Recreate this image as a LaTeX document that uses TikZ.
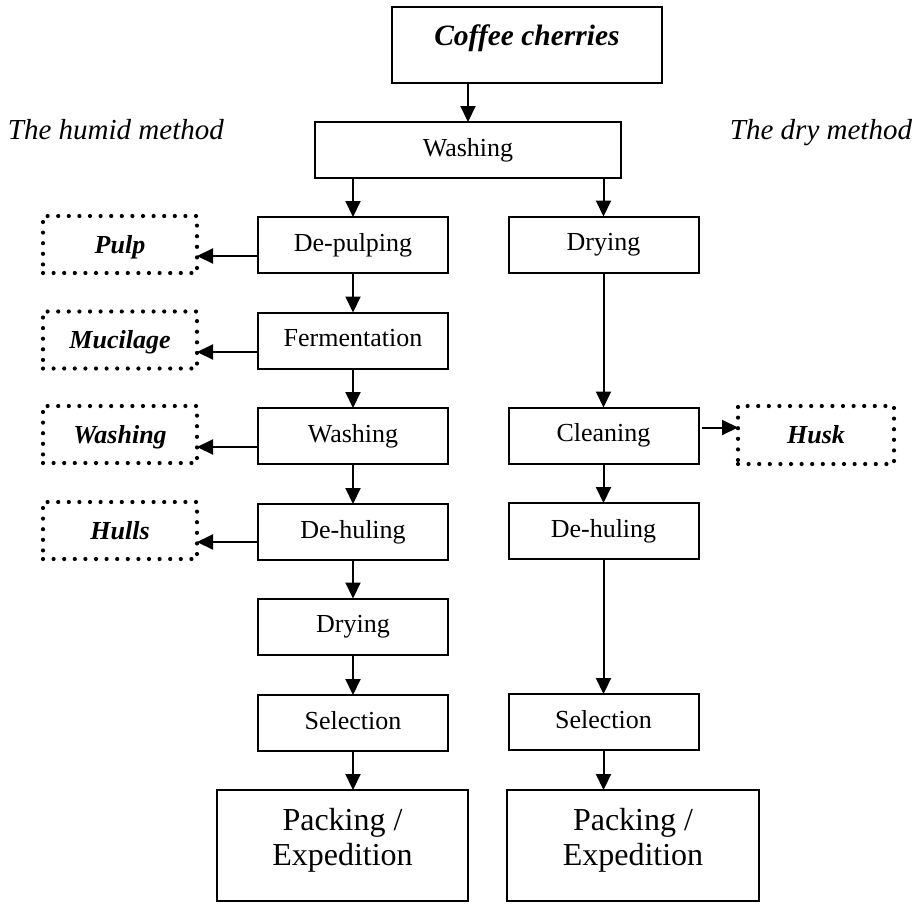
\documentclass[tikz,border=0pt]{standalone}
\usepackage{fontspec}
\setmainfont{Liberation Serif}
\usetikzlibrary{arrows.meta}
\begin{document}
\begin{tikzpicture}[x=1pt,y=-1pt,
  every node/.style={inner sep=0pt, outer sep=0pt},
  proc/.style={draw, line width=2pt, minimum width=190pt, minimum height=56pt,
    font=\fontsize{26}{30}\selectfont, text height=18pt, text depth=6pt},
  waste/.style={draw, line width=4.2pt, dash pattern=on 0pt off 10.6pt, line cap=round,
    minimum width=154pt, minimum height=57pt,
    font=\fontsize{26}{30}\selectfont\bfseries\itshape, text height=20pt, text depth=3pt},
  bigbox/.style={draw, line width=2pt, minimum height=111pt, align=center,
    font=\fontsize{32}{35}\selectfont},
  title/.style={font=\fontsize{29}{32}\selectfont\itshape},
  arr/.style={line width=2pt, -{Triangle[length=16pt,width=15pt]}},
]
\useasboundingbox (0,0) rectangle (919,903);

\node[proc, minimum width=270pt, minimum height=76pt,
  font=\fontsize{29.5}{32}\selectfont\bfseries\itshape,
  text height=20pt, text depth=20pt] (coffee) at (527,45) {Coffee cherries};
\node[proc, minimum width=306pt] (wash) at (468,150) {Washing};
\node[title, anchor=base west] (humid) at (8,139) {The humid method};
\node[title, anchor=base east] (dry) at (912,139) {The dry method};

% humid column
\node[proc] (dp)    at (353,245)   {De-pulping};
\node[proc] (ferm)  at (353,340.5) {Fermentation};
\node[proc] (wash2) at (353,436)   {Washing};
\node[proc] (dehul) at (353,532)   {De-huling};
\node[proc] (dry1)  at (353,626.5) {Drying};
\node[proc] (sel1)  at (353,723)   {Selection};
\node[bigbox, minimum width=251pt] (pack1) at (342.5,845.5)
  {Packing /\\Expedition\rule[-18pt]{0pt}{0pt}};

% dry column
\node[proc] (dry2)   at (603.5,244.5) {Drying};
\node[proc] (clean)  at (603.5,435.5) {Cleaning};
\node[proc] (dehul2) at (603.5,531)   {De-huling};
\node[proc] (sel2)   at (603.5,722)   {Selection};
\node[bigbox, minimum width=252pt] (pack2) at (633,845.5)
  {Packing /\\Expedition\rule[-18pt]{0pt}{0pt}};

% by-products
\node[waste] (pulp)  at (120,244.5) {Pulp};
\node[waste] (mucil) at (120,340)   {Mucilage};
\node[waste] (washx) at (120,434.5) {Washing};
\node[waste] (hulls) at (120,530.5) {Hulls};
\node[waste, minimum width=156pt, minimum height=58pt] (husk) at (816,435) {Husk};

% connectors
\draw[arr] (coffee.south -| wash.north) -- (wash.north);
\draw[arr] (wash.south -| dp.north) -- (dp.north);
\draw[arr] (wash.south -| dry2.north) -- (dry2.north);

\draw[arr] (dp.south) -- (ferm.north);
\draw[arr] (ferm.south) -- (wash2.north);
\draw[arr] (wash2.south) -- (dehul.north);
\draw[arr] (dehul.south) -- (dry1.north);
\draw[arr] (dry1.south) -- (sel1.north);
\draw[arr] (sel1.south) -- (sel1.south |- pack1.north);

\draw[arr] (dry2.south) -- (clean.north);
\draw[arr] (clean.south) -- (dehul2.north);
\draw[arr] (dehul2.south) -- (sel2.north);
\draw[arr] (sel2.south) -- (sel2.south |- pack2.north);

\draw[arr] ([yshift=-11pt]dp.west) -- ([yshift=-11pt]dp.west -| pulp.east);
\draw[arr] ([yshift=-11.5pt]ferm.west) -- ([yshift=-11.5pt]ferm.west -| mucil.east);
\draw[arr] ([yshift=-11pt]wash2.west) -- ([yshift=-11pt]wash2.west -| washx.east);
\draw[arr] ([yshift=-10pt]dehul.west) -- ([yshift=-10pt]dehul.west -| hulls.east);
\draw[arr] ([xshift=3pt,yshift=8pt]clean.east) -- ([yshift=8pt]clean.east -| husk.west);
\end{tikzpicture}
\end{document}
